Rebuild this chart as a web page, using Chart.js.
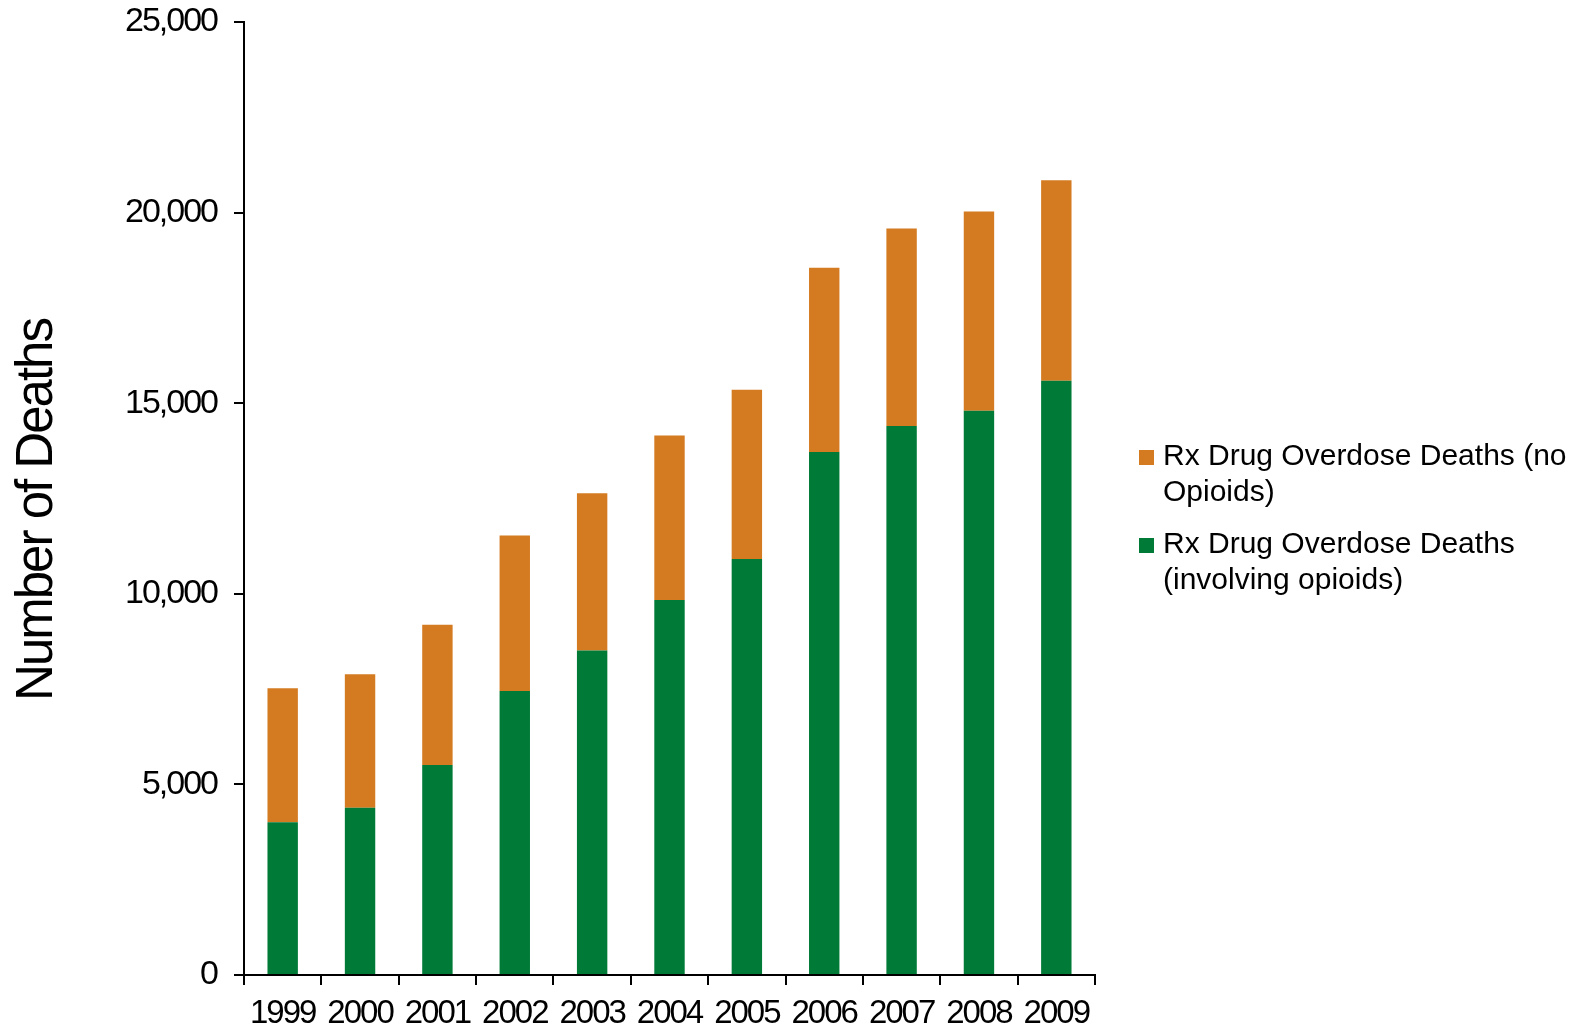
<!DOCTYPE html>
<html>
<head>
<meta charset="utf-8">
<title>Rx Drug Overdose Deaths</title>
<script src="https://cdn.jsdelivr.net/npm/chart.js@4.4.1/dist/chart.umd.min.js"></script>
<style>
  html, body { margin: 0; padding: 0; background: #fff; }
  #wrap { width: 1579px; height: 1027px; position: relative; }
</style>
</head>
<body>
<div id="wrap"><canvas id="deaths_chart"></canvas></div>
<script>
var years = ['1999', '2000', '2001', '2002', '2003', '2004', '2005', '2006', '2007', '2008', '2009'];

// deaths involving opioids (bottom of each stack)
var opioidDeaths = [4010, 4390, 5510, 7450, 8510, 9840, 10910, 13720, 14400, 14800, 15590];
// the rest of the Rx overdose deaths (top of each stack)
var nonOpioidDeaths = [3510, 3500, 3680, 4080, 4130, 4310, 4440, 4830, 5180, 5230, 5260];

var yTicks = [0, 5000, 10000, 15000, 20000, 25000];
var yTitle = 'Number of Deaths';

var legendLines = {
  nonOpioid: ['Rx Drug Overdose Deaths (no', 'Opioids)'],
  opioid: ['Rx Drug Overdose Deaths', '(involving opioids)']
};

var ORANGE = '#D47B22';
var GREEN = '#007A37';
var FONT = "'Liberation Sans', Arial, sans-serif";

function setSpacing(ctx, px) {
  if ('letterSpacing' in ctx) ctx.letterSpacing = px + 'px';
}

// axis text is set a little tighter than the legend text
var tightAxisText = {
  id: 'tightAxisText',
  beforeDraw: function(chart) { setSpacing(chart.ctx, -2); },
  beforeDatasetsDraw: function(chart) { setSpacing(chart.ctx, 0); }
};

// y title sits a bit below the middle of the axis
var yAxisTitle = {
  id: 'yAxisTitle',
  afterDraw: function(chart) {
    var ctx = chart.ctx;
    ctx.save();
    setSpacing(ctx, -2);
    ctx.translate(37.5, 510);
    ctx.rotate(-Math.PI / 2);
    ctx.font = '51px ' + FONT;
    ctx.fillStyle = '#000';
    ctx.textAlign = 'center';
    ctx.textBaseline = 'middle';
    ctx.fillText(yTitle, 0, 0);
    ctx.restore();
  }
};

// legend on the right, orange entry first, wrapped over two lines
var sideLegend = {
  id: 'sideLegend',
  afterDraw: function(chart) {
    var ctx = chart.ctx;
    var x = chart.chartArea.right + 44;
    var items = [chart.data.datasets[1], chart.data.datasets[0]];
    var tops = [457, 545];
    ctx.save();
    setSpacing(ctx, 0);
    ctx.font = '30px ' + FONT;
    ctx.textBaseline = 'middle';
    items.forEach(function(ds, i) {
      ctx.fillStyle = ds.backgroundColor;
      ctx.fillRect(x, tops[i] - 7, 15, 15);
      ctx.fillStyle = '#000';
      ds.legendText.forEach(function(line, j) {
        ctx.fillText(line, x + 24, tops[i] + j * 36);
      });
    });
    ctx.restore();
  }
};

new Chart(document.getElementById('deaths_chart'), {
  type: 'bar',
  data: {
    labels: years,
    datasets: [{
      label: legendLines.opioid.join(' '),
      legendText: legendLines.opioid,
      data: opioidDeaths,
      backgroundColor: GREEN
    }, {
      label: legendLines.nonOpioid.join(' '),
      legendText: legendLines.nonOpioid,
      data: nonOpioidDeaths,
      backgroundColor: ORANGE
    }]
  },
  options: {
    responsive: true,
    maintainAspectRatio: false,
    animation: false,
    layout: { padding: { top: 22, right: 484, bottom: 0, left: 0 } },
    datasets: {
      bar: { categoryPercentage: 1, barPercentage: 0.393 }
    },
    plugins: {
      legend: { display: false },
      tooltip: { enabled: false }
    },
    scales: {
      x: {
        stacked: true,
        border: { display: true, color: '#000', width: 2 },
        grid: { display: true, drawOnChartArea: false, drawTicks: true, tickLength: 10, color: '#000', lineWidth: 2, offset: true },
        ticks: { color: '#000', font: { family: FONT, size: 33 }, padding: 9, maxRotation: 0, autoSkip: false },
        afterFit: function(scale) {
          scale.height = 52;
          scale.paddingLeft = 0;
          scale.paddingRight = 0;
        }
      },
      y: {
        stacked: true,
        min: 0,
        max: 25000,
        afterBuildTicks: function(scale) {
          scale.ticks = yTicks.map(function(v) { return { value: v }; });
        },
        border: { display: true, color: '#000', width: 2 },
        grid: { display: true, drawOnChartArea: false, drawTicks: true, tickLength: 10, color: '#000', lineWidth: 2 },
        ticks: {
          color: '#000',
          font: { family: FONT, size: 34 },
          padding: 17,
          callback: function(v) { return v.toLocaleString('en-US'); }
        },
        afterFit: function(scale) {
          scale.width = 244;
          scale.paddingTop = 0;
          scale.paddingBottom = 0;
        }
      }
    }
  },
  plugins: [tightAxisText, yAxisTitle, sideLegend]
});
</script>
</body>
</html>
